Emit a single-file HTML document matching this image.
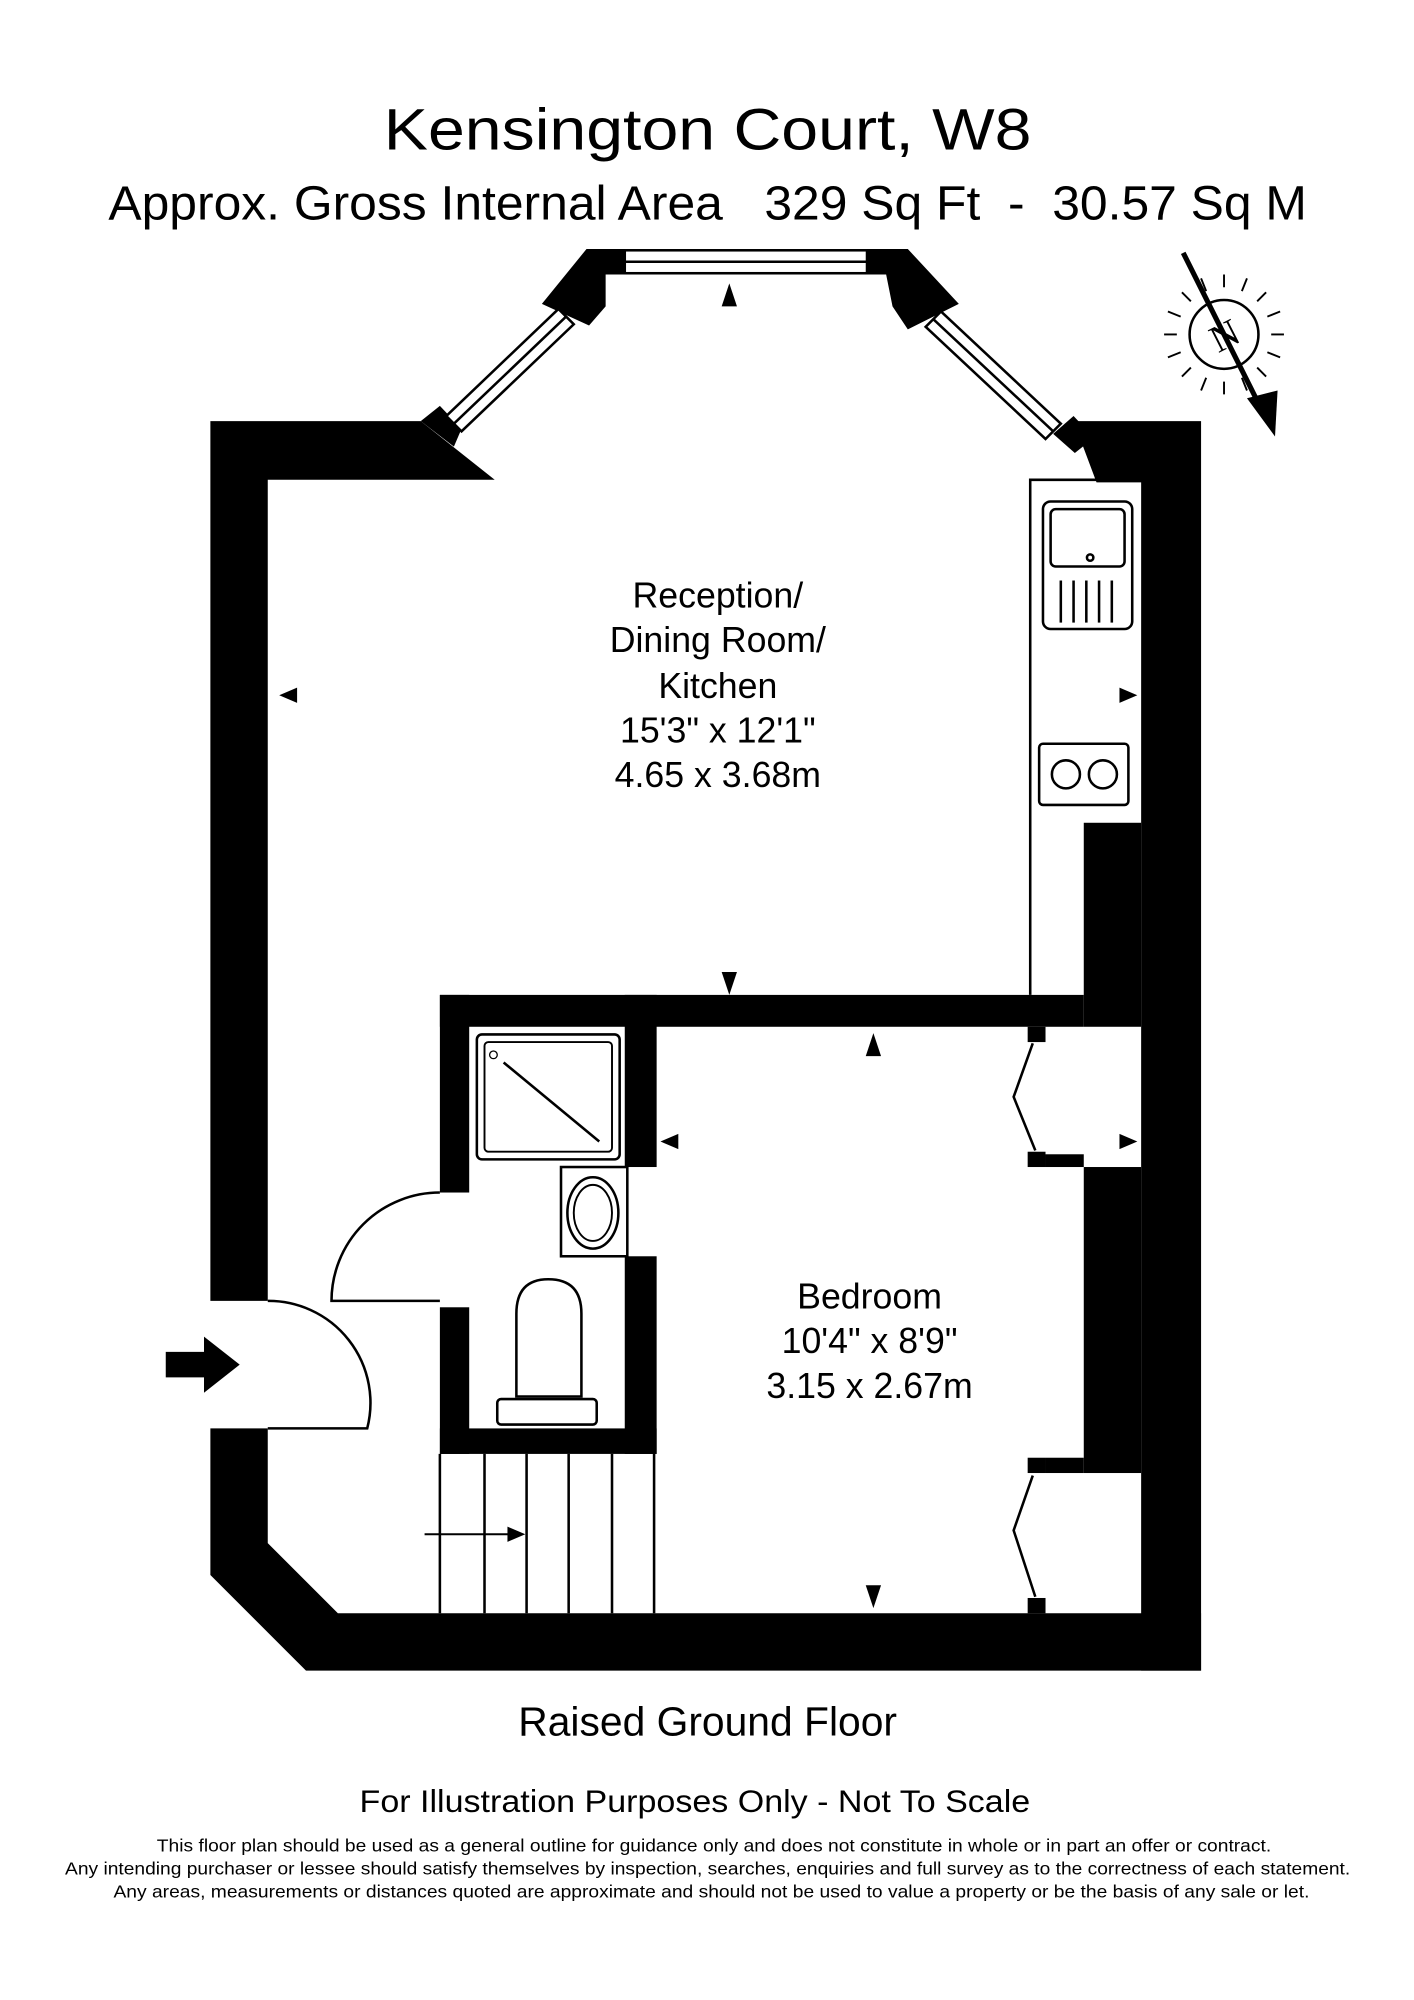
<!DOCTYPE html>
<html><head><meta charset="utf-8"><style>html,body{margin:0;padding:0;background:#fff}svg{display:block}</style></head>
<body>
<svg width="1414" height="2000" viewBox="0 0 1109 1568" xmlns="http://www.w3.org/2000/svg" font-family="Liberation Sans, Arial, sans-serif">
<rect width="1109" height="1568" fill="#fff"/>
<text x="555" y="117" font-size="46" text-anchor="middle" textLength="508" lengthAdjust="spacingAndGlyphs">Kensington Court, W8</text>
<text x="555" y="172" font-size="38" text-anchor="middle" textLength="940" lengthAdjust="spacingAndGlyphs" xml:space="preserve">Approx. Gross Internal Area   329 Sq Ft  -  30.57 Sq M</text>

<g fill="#000">
<!-- left wall -->
<polygon points="165,330 330,330 388,376 210,376 210,1020 165,1020"/>
<polygon points="165,1120 210,1120 210,1210 265,1265 942,1265 942,1310 240,1310 165,1235"/>
<!-- bay corners -->
<polygon points="330,330 345,318 362,336 356,350"/>
<polygon points="425,238 460,195 490,195 490,215 475,215 475,240 462,255"/>
<polygon points="680,195 712,195 752,238 712,258 700,240 695,215 680,215"/>
<polygon points="826,340 842,326 858,343 843,355"/>
<!-- right wall -->
<polygon points="842,330 942,330 942,1310 895,1310 895,378 860,378"/>
<rect x="850" y="645" width="45" height="160"/>
<rect x="850" y="915" width="45" height="240"/>
<!-- middle horizontal wall -->
<rect x="345" y="780" width="505" height="25"/>
<rect x="806" y="805" width="14" height="12"/>
<rect x="806" y="903" width="14" height="12"/>
<rect x="806" y="1143" width="14" height="12"/>
<rect x="806" y="1253" width="14" height="12"/>
<rect x="820" y="905" width="30" height="10"/>
<rect x="820" y="1143" width="30" height="12"/>
<!-- bathroom walls -->
<rect x="345" y="780" width="23" height="155"/>
<rect x="345" y="1025" width="23" height="115"/>
<rect x="345" y="1120" width="170" height="20"/>
<rect x="490" y="780" width="25" height="135"/>
<rect x="490" y="985" width="25" height="155"/>
</g>
<!-- bay windows -->
<g stroke="#000" stroke-width="2" fill="#fff">
<rect x="490" y="196" width="190" height="18"/>
<line x1="490" y1="205" x2="680" y2="205"/>
<polygon points="350,326 438,242 450,254 362,338"/>
<line x1="356" y1="332" x2="444" y2="248"/>
<polygon points="738,244 832,332 820,344 726,256"/>
<line x1="732" y1="250" x2="826" y2="338"/>
</g>
<!-- bathroom basin cabinet -->
<rect x="440" y="915" width="52" height="70" fill="#fff" stroke="#000" stroke-width="2"/>
<ellipse cx="465" cy="951" rx="20" ry="28" fill="#fff" stroke="#000" stroke-width="2"/>
<ellipse cx="465" cy="951" rx="15" ry="22" fill="none" stroke="#000" stroke-width="1.5"/>
<!-- shower -->
<rect x="374" y="811" width="112" height="98" rx="4" fill="#fff" stroke="#000" stroke-width="2"/>
<rect x="380" y="817" width="100" height="86" rx="3" fill="none" stroke="#000" stroke-width="1.5"/>
<line x1="395" y1="833" x2="470" y2="895" stroke="#000" stroke-width="2"/>
<circle cx="387" cy="827" r="3" fill="none" stroke="#000"/>
<!-- toilet -->
<rect x="390" y="1097" width="78" height="20" rx="3" fill="#fff" stroke="#000" stroke-width="2"/>
<path d="M405,1095 L405,1030 Q405,1003 430,1003 Q456,1003 456,1030 L456,1095 Z" fill="#fff" stroke="#000" stroke-width="2"/>
<!-- doors -->
<g fill="none" stroke="#000" stroke-width="2">
<path d="M345,935 A85,85 0 0 0 260,1020 L345,1020"/>
<path d="M210,1020 A80,80 0 0 1 288,1120 L210,1120"/>
<polyline points="810,818 795,860 812,902"/>
<polyline points="810,1157 795,1200 812,1252"/>
<!-- kitchen -->
<polyline points="808,780 808,376 895,376"/>
<rect x="818" y="393" width="70" height="100" rx="6"/>
<rect x="824" y="399" width="58" height="45" rx="4"/>
<line x1="832" y1="455" x2="832" y2="488"/><line x1="842" y1="455" x2="842" y2="488"/><line x1="852" y1="455" x2="852" y2="488"/><line x1="862" y1="455" x2="862" y2="488"/><line x1="872" y1="455" x2="872" y2="488"/>
<circle cx="855" cy="437" r="2.5"/>
<rect x="815" y="583" width="70" height="48" rx="3"/>
<circle cx="836" cy="607" r="11"/><circle cx="865" cy="607" r="11"/>
<!-- stairs -->
<line x1="380" y1="1140" x2="380" y2="1265"/><line x1="413" y1="1140" x2="413" y2="1265"/><line x1="446" y1="1140" x2="446" y2="1265"/><line x1="480" y1="1140" x2="480" y2="1265"/><line x1="513" y1="1140" x2="513" y2="1265"/>
<line x1="345" y1="1140" x2="345" y2="1265"/>
<line x1="333" y1="1203" x2="400" y2="1203" stroke-width="1.5"/>
</g>
<polygon points="398,1197 412,1203 398,1209" fill="#000"/>
<!-- entry arrow -->
<polygon points="130,1060 160,1060 160,1048 188,1070 160,1092 160,1080 130,1080" fill="#000"/>
<!-- markers -->
<g fill="#000">
<polygon points="566,240 578,240 572,222"/>
<polygon points="233,539 233,551 219,545"/>
<polygon points="878,539 878,551 892,545"/>
<polygon points="566,762 578,762 572,780"/>
<polygon points="679,828 691,828 685,810"/>
<polygon points="532,889 532,901 518,895"/>
<polygon points="878,889 878,901 892,895"/>
<polygon points="679,1243 691,1243 685,1261"/>
</g>
<!-- compass -->
<g stroke="#000" fill="none" stroke-width="2">
<circle cx="960" cy="262" r="27"/>
<line x1="928" y1="198" x2="988" y2="318" stroke-width="4"/>
<g stroke-width="1.5">
<line x1="960" y1="225" x2="960" y2="215"/><line x1="960" y1="299" x2="960" y2="309"/>
<line x1="923" y1="262" x2="913" y2="262"/><line x1="997" y1="262" x2="1007" y2="262"/>
<line x1="934" y1="236" x2="927" y2="229"/><line x1="986" y1="288" x2="993" y2="295"/>
<line x1="986" y1="236" x2="993" y2="229"/><line x1="934" y1="288" x2="927" y2="295"/>
<line x1="926" y1="248" x2="916" y2="244"/><line x1="994" y1="276" x2="1004" y2="280"/>
<line x1="946" y1="228" x2="942" y2="218"/><line x1="974" y1="296" x2="978" y2="306"/>
<line x1="974" y1="228" x2="978" y2="218"/><line x1="946" y1="296" x2="942" y2="306"/>
<line x1="994" y1="248" x2="1004" y2="244"/><line x1="926" y1="276" x2="916" y2="280"/>
</g>
</g>
<polygon points="978,312 1000,342 1002,306" fill="#000"/>
<text x="960" y="273" font-size="30" text-anchor="middle" font-family="Liberation Serif, serif" transform="rotate(-27 960 262)">N</text>
<!-- labels -->
<g font-size="28" text-anchor="middle" fill="#000">
<text x="563" y="476">Reception/</text>
<text x="563" y="511">Dining Room/</text>
<text x="563" y="547">Kitchen</text>
<text x="563" y="582">15'3" x 12'1"</text>
<text x="563" y="617">4.65 x 3.68m</text>
<text x="682" y="1026">Bedroom</text>
<text x="682" y="1061">10'4" x 8'9"</text>
<text x="682" y="1096">3.15 x 2.67m</text>
</g>
<text x="555" y="1361" font-size="32" text-anchor="middle">Raised Ground Floor</text>
<text x="545" y="1421" font-size="25" text-anchor="middle" textLength="526" lengthAdjust="spacingAndGlyphs">For Illustration Purposes Only - Not To Scale</text>
<g font-size="13.5" text-anchor="middle">
<text x="560" y="1452" textLength="874" lengthAdjust="spacingAndGlyphs">This floor plan should be used as a general outline for guidance only and does not constitute in whole or in part an offer or contract.</text>
<text x="555" y="1470" textLength="1008" lengthAdjust="spacingAndGlyphs">Any intending purchaser or lessee should satisfy themselves by inspection, searches, enquiries and full survey as to the correctness of each statement.</text>
<text x="558" y="1488" textLength="938" lengthAdjust="spacingAndGlyphs">Any areas, measurements or distances quoted are approximate and should not be used to value a property or be the basis of any sale or let.</text>
</g>
</svg>
</body></html>
